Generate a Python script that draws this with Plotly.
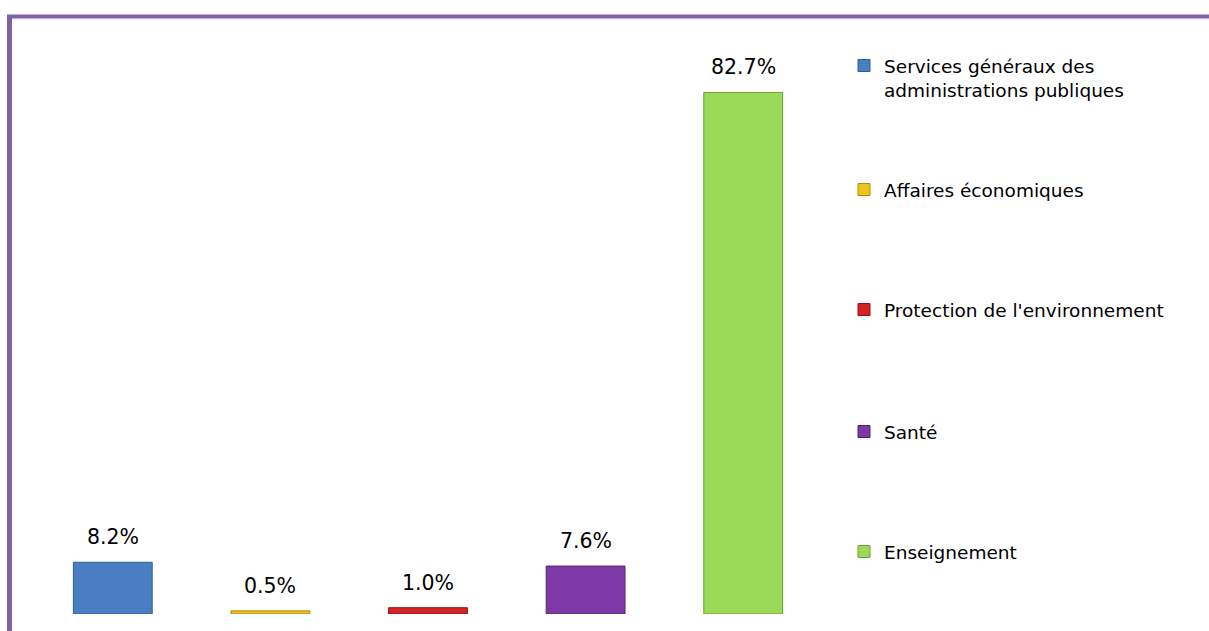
import plotly.graph_objects as go

categories = ["Services généraux des<br>administrations publiques", "Affaires économiques",
              "Protection de l'environnement", "Santé", "Enseignement"]
values = [8.2, 0.5, 1.0, 7.6, 82.7]
labels = ["8.2%", "0.5%", "1.0%", "7.6%", "82.7%"]
colors = ["#4A7EC2", "#EDC21A", "#D42424", "#7D3AA6", "#9BDA58"]
edge_colors = ["#2F5D94", "#B08A00", "#8E1212", "#52226F", "#6AA033"]

W, H = 1209, 631
L, R, T, B = 34, 387, 59, 17
pw, ph = W - L - R, H - T - B

def px_x(px):
    return (px - L) / pw

def px_y(py):
    return (H - B - py) / ph

fig = go.Figure()
legend_centers = [78, 190, 310, 432, 552]
legend_names = ["legend", "legend2", "legend3", "legend4", "legend5"]
for i, (c, v) in enumerate(zip(categories, values)):
    fig.add_trace(go.Bar(
        x=[i], y=[v], name=c, marker=dict(color=colors[i], line=dict(color=edge_colors[i], width=1)),
        legend=legend_names[i], showlegend=True, hoverinfo="skip"))
    fig.add_annotation(x=i, y=v, text=labels[i], showarrow=False, yanchor="middle", yshift=25,
                       font=dict(family="DejaVu Sans", size=20.5, color="#000000"))

layout_legends = {}
for i, ln in enumerate(legend_names):
    layout_legends[ln] = dict(
        x=px_x(844), xanchor="left", y=px_y(legend_centers[i]), yanchor="middle",
        font=dict(family="DejaVu Sans", size=18.5, color="#000000"),
        bgcolor="rgba(0,0,0,0)", borderwidth=0, valign="top", itemwidth=30)

fig.update_layout(
    width=W, height=H,
    margin=dict(l=L, r=R, t=T, b=B, pad=0),
    paper_bgcolor="#FFFFFF", plot_bgcolor="#FFFFFF",
    barmode="overlay", bargap=0.5,
    xaxis=dict(range=[-0.5, 4.5], showticklabels=False, showgrid=False, zeroline=False, showline=False, ticks=""),
    yaxis=dict(range=[0, 88], showticklabels=False, showgrid=False, zeroline=False, showline=False, ticks=""),
    **layout_legends,
)

# purple frame (top and left)
fig.add_shape(type="line", xref="paper", yref="paper", x0=px_x(7), x1=px_x(1209), y0=px_y(16.5), y1=px_y(16.5),
              line=dict(color="#7F63A1", width=4), layer="above")
fig.add_shape(type="line", xref="paper", yref="paper", x0=px_x(9.5), x1=px_x(9.5), y0=px_y(15), y1=px_y(631),
              line=dict(color="#7F63A1", width=5), layer="above")
fig.add_shape(type="line", xref="paper", yref="paper", x0=px_x(12), x1=px_x(1209), y0=px_y(18.8), y1=px_y(18.8),
              line=dict(color="#C6B8D8", width=1), layer="above")

fig.write_html("out.html", config={"displayModeBar": False},
               post_script="document.body.style.margin='0';document.body.style.overflow='hidden';")
